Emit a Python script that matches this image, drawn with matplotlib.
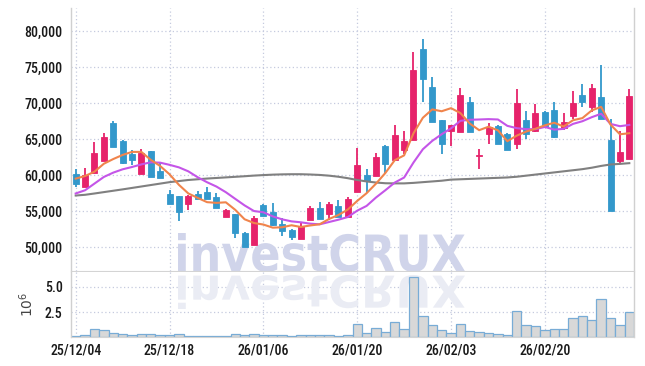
import matplotlib
matplotlib.use('Agg')
import matplotlib.pyplot as plt
import numpy as np
from matplotlib import font_manager
from matplotlib.textpath import TextPath
from matplotlib.patches import PathPatch
from matplotlib.font_manager import FontProperties
from matplotlib.transforms import Affine2D, IdentityTransform
from matplotlib.ticker import FuncFormatter

# ---------------- data ----------------
dates = ['25/12/04', '25/12/05', '25/12/08', '25/12/09', '25/12/10', '25/12/11', '25/12/12',
         '25/12/15', '25/12/16', '25/12/17', '25/12/18', '25/12/19', '25/12/22', '25/12/23',
         '25/12/24', '25/12/26', '25/12/29', '25/12/30', '26/01/02', '26/01/05', '26/01/06',
         '26/01/07', '26/01/08', '26/01/09', '26/01/12', '26/01/13', '26/01/14', '26/01/15',
         '26/01/16', '26/01/19', '26/01/20', '26/01/21', '26/01/22', '26/01/23', '26/01/26',
         '26/01/27', '26/01/28', '26/01/29', '26/01/30', '26/02/02', '26/02/03', '26/02/04',
         '26/02/05', '26/02/06', '26/02/09', '26/02/10', '26/02/11', '26/02/12', '26/02/13',
         '26/02/19', '26/02/20', '26/02/23', '26/02/24', '26/02/25', '26/02/26', '26/02/27',
         '26/03/03', '26/03/04', '26/03/05', '26/03/06']

opens = [60230, 58440, 60370, 61970, 67200, 64730, 62980, 60230, 63350, 60600,
         57430, 57070, 56010, 57430, 57750, 56930, 54220, 54680, 52060, 50320,
         55830, 54910, 53210, 52380, 51190, 53850, 55500, 54680, 55690, 54220,
         57660, 60060, 59920, 64080, 62180, 63480, 64950, 77470, 72250, 67680,
         66100, 66060, 70190, 62700, 65690, 66850, 65690, 64300, 67690, 66160,
         68700, 68980, 66520, 68280, 71070, 69440, 70840, 64940, 62020, 62250]
highs = [60920, 61060, 64640, 65920, 67570, 64910, 63530, 63670, 63400, 61700,
         57980, 57100, 57300, 57890, 58440, 57520, 55400, 54700, 52100, 54300,
         56060, 56150, 54130, 52500, 53530, 55780, 56240, 56290, 56510, 56970,
         63770, 60840, 63100, 64150, 66940, 66150, 77010, 78860, 73550, 67700,
         66950, 72080, 70880, 63610, 67180, 66900, 65800, 71940, 68940, 69860,
         68900, 70140, 68650, 71620, 72690, 72690, 75240, 67730, 66190, 71900]
lows = [58390, 58400, 60370, 61970, 63900, 61500, 61420, 60230, 59700, 59680,
        55960, 53670, 55140, 56650, 56700, 55460, 54220, 51370, 50000, 50320,
        54300, 53000, 51560, 51010, 51190, 53850, 53900, 53850, 54220, 54220,
        57660, 57610, 59920, 60240, 62180, 62920, 64950, 70220, 67450, 63010,
        64000, 66060, 66060, 60830, 64300, 64400, 63500, 63610, 65000, 66000,
        66500, 65130, 66330, 67820, 69440, 68750, 67800, 55000, 61690, 62250]
closes = [58850, 60050, 63120, 65280, 63950, 61700, 62160, 63120, 59770, 59680,
          55960, 54860, 57200, 56650, 56740, 55460, 55230, 52020, 50090, 54130,
          54420, 53070, 52290, 51470, 52930, 55500, 53900, 55960, 54220, 56740,
          61450, 59230, 62550, 61630, 65600, 64770, 74560, 73270, 67450, 64310,
          66900, 71150, 66060, 62850, 66710, 64400, 63560, 69950, 65690, 68660,
          66750, 65360, 67360, 70000, 70140, 72090, 67820, 55060, 63270, 70930]

ma5 = [59540, 59900, 60500, 61600, 62250, 62820, 63240, 63240, 62140, 61290,
       60140, 58680, 57490, 56870, 56280, 56180, 56260, 55220, 53910, 53390,
       53180, 52750, 52800, 53080, 52840, 53050, 53220, 53950, 54500, 55260,
       56450, 57520, 58840, 60320, 62090, 62760, 65820, 67970, 69130, 68870,
       69300, 68620, 67170, 66250, 66730, 66230, 64720, 65490, 66060, 66450,
       66920, 67280, 66760, 67630, 67920, 68990, 69480, 67020, 65680, 65830]
ma20 = [57480, 57930, 58850, 59770, 60370, 60830, 61150, 61510, 61800, 61750,
        61450, 61100, 60550, 59730, 59040, 58440, 57660, 56740, 55830, 55050,
        54880, 54310, 53900, 53620, 53490, 53300, 53210, 53530, 53850, 54220,
        55100, 55760, 56920, 57930, 58990, 59690, 61770, 63610, 64770, 65690,
        66500, 67550, 67690, 67730, 67780, 67730, 66850, 66530, 66390, 66390,
        66700, 66330, 66430, 67120, 67490, 68050, 68520, 67120, 66800, 66980]
ma60 = [57200, 57300, 57480, 57670, 57860, 58050, 58250, 58450, 58650, 58850,
        59050, 59200, 59350, 59450, 59550, 59630, 59710, 59790, 59870, 59960,
        60030, 60090, 60130, 60150, 60150, 60110, 60050, 59950, 59800, 59600,
        59350, 59150, 59000, 58900, 58880, 58880, 58950, 59050, 59150, 59250,
        59400, 59450, 59500, 59550, 59600, 59650, 59700, 59800, 59950, 60100,
        60250, 60400, 60550, 60700, 60850, 61050, 61300, 61500, 61580, 61680]

volume_m = [0.14, 0.2, 0.8, 0.7, 0.45, 0.3, 0.2, 0.3, 0.3, 0.2,
            0.2, 0.3, 0.1, 0.1, 0.1, 0.1, 0.1, 0.3, 0.2, 0.3,
            0.2, 0.2, 0.2, 0.1, 0.2, 0.2, 0.2, 0.2, 0.1, 0.2,
            1.3, 0.4, 0.9, 0.5, 1.55, 0.8, 6.0, 2.15, 1.2, 0.7,
            0.4, 1.3, 0.6, 0.5, 0.45, 0.3, 0.2, 2.65, 1.2, 1.1,
            0.7, 0.8, 0.8, 1.95, 2.15, 1.75, 3.8, 1.95, 1.2, 2.55]

price_ticks = [50000, 55000, 60000, 65000, 70000, 75000, 80000]
volume_ticks = [2.5, 5.0]
date_tick_step = 10
watermark = 'investCRUX'

# ---------------- style ----------------
names = {f.name for f in font_manager.fontManager.ttflist}
if 'Roboto Condensed' in names:
    tick_family = 'Roboto Condensed'
elif 'Roboto' in names:
    tick_family = 'Roboto'
else:
    tick_family = 'DejaVu Sans'
plt.rcParams['font.family'] = [tick_family, 'DejaVu Sans']

UP = '#e6236b'
DOWN = '#3398cb'
GRID = '#c5cadf'

W, H = 645, 366
fig = plt.figure(figsize=(W / 100, H / 100), dpi=100)


def rect(l, t, r, b):
    return [l / W, 1 - b / H, (r - l) / W, (b - t) / H]


ax = fig.add_axes(rect(71, 8, 634, 271))
axv = fig.add_axes(rect(71, 272, 634, 337), sharex=ax)

x = np.arange(len(dates))
o = np.array(opens, float)
c = np.array(closes, float)
h = np.array(highs, float)
l = np.array(lows, float)
up = c >= o
colors = np.where(up, UP, DOWN)

# wicks
ax.vlines(x, l, h, colors=colors, linewidth=1.3, zorder=2)
# bodies
body_bottom = np.minimum(o, c)
body_h = np.maximum(np.abs(c - o), 120)
ax.bar(x, body_h, bottom=body_bottom, width=0.64, color=colors,
       edgecolor=colors, linewidth=0.6, zorder=3)

# moving averages
ax.plot(x, ma60, color='#808080', lw=1.5, zorder=4)
ax.plot(x, ma20, color='#c455e8', lw=1.5, zorder=4)
ax.plot(x, ma5, color='#f0844c', lw=1.5, zorder=5)

ax.set_xlim(-0.5, len(dates) - 0.5)
ax.set_ylim(46745, 83172)
ax.set_yticks(price_ticks)
ax.yaxis.set_major_formatter(FuncFormatter(lambda v, p: f'{int(v):,}'))

# volume
axv.bar(x, volume_m, width=1.0, color='#d8d8d8', edgecolor='#78acd6',
        linewidth=0.9, zorder=2)
axv.set_ylim(0, 6.5)
axv.set_yticks(volume_ticks)
axv.yaxis.set_major_formatter(FuncFormatter(lambda v, p: f'{v:.1f}'))
tick_idx = x[::date_tick_step]
axv.set_xticks(tick_idx)
axv.set_xticklabels([dates[i] for i in tick_idx])
axv.set_ylabel(r'$10^{6}$', fontsize=10, color='#444444')
axv.yaxis.set_label_coords(-0.062, 0.5)

for a in (ax, axv):
    a.set_axisbelow(True)
    a.grid(True, color=GRID, linestyle=(0, (1, 2)), linewidth=0.9)
    a.tick_params(length=0, labelsize=10, colors='#1a1a1a', pad=6)
    for lab in a.get_xticklabels() + a.get_yticklabels():
        lab.set_fontweight('medium')
    for s in ('left', 'right'):
        a.spines[s].set_color('#d0d0d0')
        a.spines[s].set_linewidth(1.0)
    a.spines['top'].set_visible(False)
    a.spines['bottom'].set_color('#d4d4d4')
ax.tick_params(axis='x', labelbottom=False)
axv.tick_params(axis='x', pad=5)

# watermark with reflection
fp = FontProperties(family='DejaVu Sans', weight='bold')
tp = TextPath((0, 0), watermark, size=100, prop=fp)
bb = tp.get_extents()
x0, x1 = 178, 465
base_y = H - 272
top_y = H - 233
sx = (x1 - x0) / bb.width
sy = (top_y - base_y) / bb.height
tr_main = Affine2D().translate(-bb.x0, -bb.y0).scale(sx, sy).translate(x0, base_y)
p_main = PathPatch(tr_main.transform_path(tp), facecolor='#d0d4ea', edgecolor='none',
                   transform=IdentityTransform(), zorder=1, clip_on=False)
ax.add_artist(p_main)
ref_h = 34
tr_ref = Affine2D().translate(-bb.x0, -bb.y0).scale(sx, -ref_h / bb.height).translate(x0, base_y - 3)
p_ref = PathPatch(tr_ref.transform_path(tp), facecolor='#eaecf4', edgecolor='none',
                  transform=IdentityTransform(), zorder=1, clip_on=False)
axv.add_artist(p_ref)

fig.savefig('out.png', dpi=100)
